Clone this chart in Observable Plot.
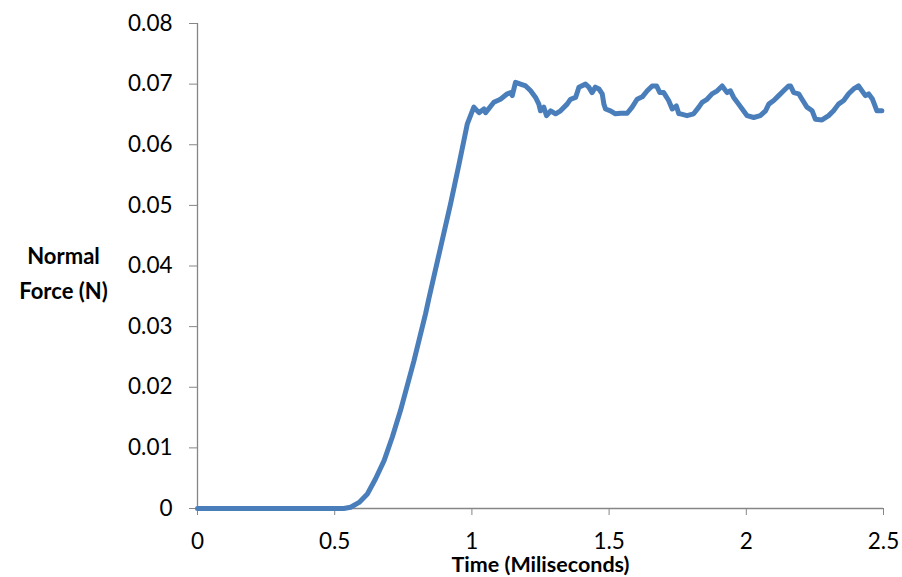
<!DOCTYPE html>
<html>
<head>
<meta charset="utf-8">
<script src="https://cdn.jsdelivr.net/npm/d3@7"></script>
<script src="https://cdn.jsdelivr.net/npm/@observablehq/plot@0.6"></script>
<style>
  html, body { margin: 0; padding: 0; background: #fff; }
</style>
</head>
<body>
<div id="chart"></div>
<script>
// Time (ms) and normal force (N), in segments
const timeRise  = [0, 0.25, 0.5, 0.533, 0.558, 0.589, 0.619, 0.649, 0.68, 0.71, 0.74, 0.789, 0.831, 0.843, 0.886, 0.922, 0.953, 0.983];
const forceRise = [0, 0, 0, 0, 0.0002, 0.001, 0.0024, 0.0049, 0.0079, 0.0118, 0.0162, 0.0244, 0.0321, 0.0346, 0.0431, 0.0502, 0.0568, 0.0634];

const timeB  = [1.007, 1.026, 1.044, 1.050, 1.080, 1.104, 1.129, 1.141, 1.147, 1.159, 1.177, 1.196, 1.214, 1.232, 1.244, 1.250, 1.262, 1.272, 1.287, 1.305, 1.323, 1.347];
const forceB = [0.0662, 0.0653, 0.0659, 0.0653, 0.0670, 0.0675, 0.0684, 0.0686, 0.0681, 0.0703, 0.0700, 0.0697, 0.0689, 0.0678, 0.0667, 0.0656, 0.0662, 0.0648, 0.0656, 0.0651, 0.0656, 0.0667];

const timeC  = [1.359, 1.378, 1.390, 1.414, 1.426, 1.438, 1.450, 1.463, 1.475, 1.481, 1.487, 1.505, 1.523, 1.542, 1.566, 1.584, 1.602, 1.621, 1.639, 1.657, 1.673, 1.685, 1.699, 1.717, 1.730, 1.745, 1.754];
const forceC = [0.0675, 0.0678, 0.0695, 0.0700, 0.0695, 0.0686, 0.0695, 0.0692, 0.0684, 0.0667, 0.0659, 0.0656, 0.0651, 0.0652, 0.0652, 0.0662, 0.0675, 0.0679, 0.0689, 0.0697, 0.0697, 0.0686, 0.0686, 0.0673, 0.0659, 0.0664, 0.0651];

const timeD  = [1.760, 1.784, 1.808, 1.827, 1.839, 1.857, 1.875, 1.894, 1.912, 1.930, 1.942, 1.954, 1.972, 1.985, 2.003, 2.027, 2.051, 2.070, 2.082, 2.100, 2.118, 2.136, 2.154];
const forceD = [0.0651, 0.0648, 0.0651, 0.0662, 0.0670, 0.0675, 0.0684, 0.0689, 0.0697, 0.0686, 0.0689, 0.0678, 0.0667, 0.0659, 0.0648, 0.0645, 0.0648, 0.0656, 0.0667, 0.0673, 0.0681, 0.0689, 0.0697];

const timeE  = [2.161, 2.173, 2.191, 2.203, 2.221, 2.240, 2.252, 2.276, 2.300, 2.318, 2.336, 2.355, 2.373, 2.391, 2.409, 2.434, 2.446, 2.460, 2.476, 2.494];
const forceE = [0.0697, 0.0686, 0.0684, 0.0675, 0.0662, 0.0656, 0.0642, 0.0641, 0.0648, 0.0656, 0.0667, 0.0673, 0.0684, 0.0692, 0.0697, 0.0681, 0.0684, 0.0675, 0.0656, 0.0656];

const xTicks = [0, 0.5, 1, 1.5, 2, 2.5];
const yTicks = [0, 0.01, 0.02, 0.03, 0.04, 0.05, 0.06, 0.07, 0.08];
const xTitle = "Time (Miliseconds)";
const yTitle = "Normal\nForce (N)";

const times = [...timeRise, ...timeB, ...timeC, ...timeD, ...timeE];
const forces = [...forceRise, ...forceB, ...forceC, ...forceD, ...forceE];
const data = times.map((t, i) => ({t, f: forces[i]}));

const fmt = d => String(+d.toFixed(2));
const axisGray = "#868686";

const chart = Plot.plot({
  width: 902,
  height: 577,
  marginLeft: 197,
  marginRight: 19,
  marginTop: 23,
  marginBottom: 69,
  style: {fontFamily: "Lato, sans-serif", fontSize: "22px", color: "black", background: "white"},
  x: {domain: [0, 2.5], axis: null},
  y: {domain: [0, 0.08], axis: null},
  marks: [
    Plot.ruleX([0], {stroke: axisGray, strokeWidth: 1.3}),
    Plot.ruleY([0], {stroke: axisGray, strokeWidth: 1.3}),
    Plot.axisX({ticks: xTicks, tickFormat: fmt, tickSize: 7, tickPadding: 18, stroke: axisGray, fill: "black", fontSize: 22.5, label: null}),
    Plot.axisY({ticks: yTicks, tickFormat: fmt, tickSize: 8, tickPadding: 17, stroke: axisGray, fill: "black", fontSize: 22.5, label: null}),
    Plot.line(data, {x: "t", y: "f", stroke: "#4A7EBB", strokeWidth: 5, strokeLinejoin: "round", strokeLinecap: "round"}),
    Plot.text([xTitle], {text: d => d, frameAnchor: "bottom", lineAnchor: "bottom", dy: 63, fontWeight: "bold", fontSize: 21.5, fill: "black"}),
    Plot.text([yTitle], {text: d => d, frameAnchor: "left", textAnchor: "middle", lineAnchor: "middle", dx: -134, dy: 4, lineHeight: 1.6, fontWeight: "bold", fontSize: 22, fill: "black"})
  ]
});
document.getElementById("chart").appendChild(chart);
</script>
</body>
</html>
